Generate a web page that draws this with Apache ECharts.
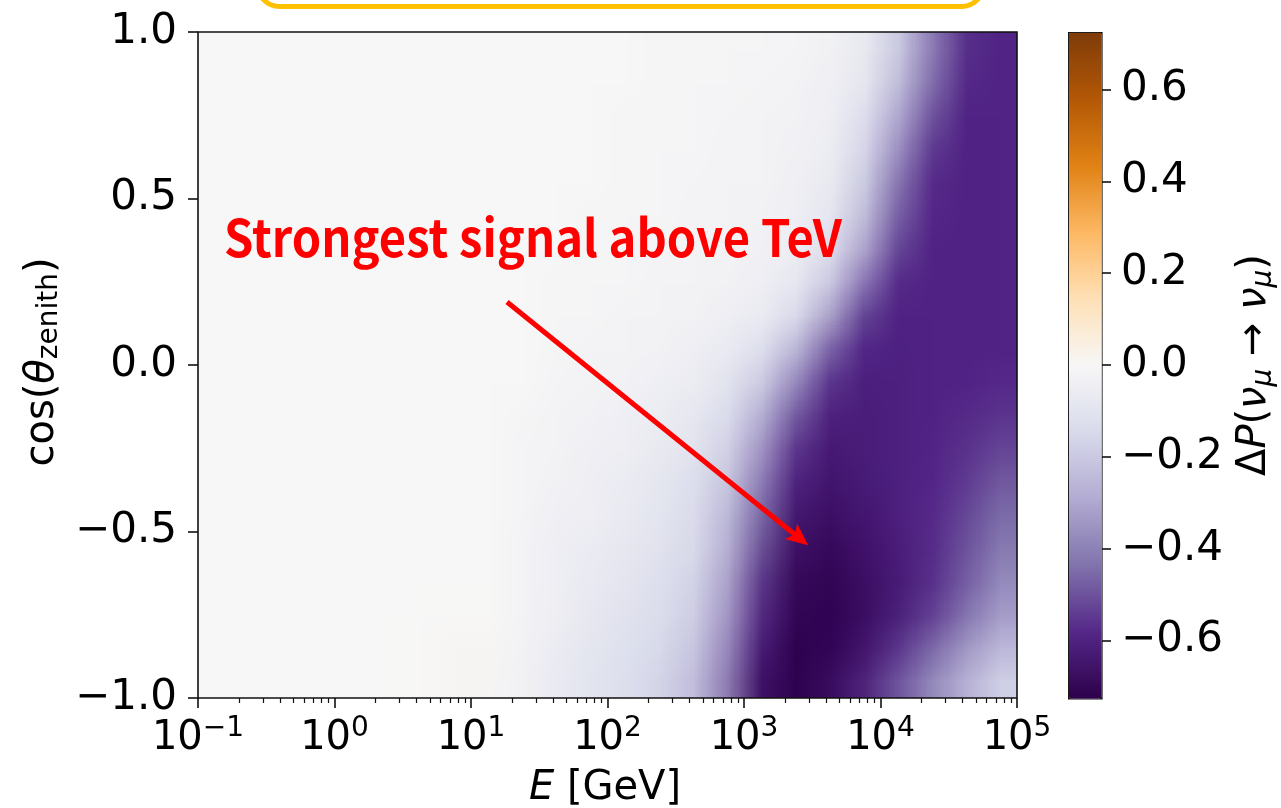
<!DOCTYPE html>
<html>
<head>
<meta charset="utf-8">
<script src="https://cdn.jsdelivr.net/npm/echarts@6/dist/echarts.min.js"></script>
<style>
  html, body { margin: 0; padding: 0; background: #ffffff; }
  #chart { width: 1281px; height: 808px; }
  #cells { position: absolute; left: -3000px; top: 0; width: 24px; height: 20px; }
</style>
</head>
<body>
<div id="chart"></div>
<div id="cells"></div>
<script>
// ---- grid of the map: log10(E / GeV) column centres, cos(zenith) row centres (top to bottom)
const logE = [-0.875, -0.625, -0.375, -0.125, 0.125, 0.375, 0.625, 0.875,
              1.125, 1.375, 1.625, 1.875, 2.125, 2.375, 2.625, 2.875,
              3.125, 3.375, 3.625, 3.875, 4.125, 4.375, 4.625, 4.875];
const cosZenith = [0.95, 0.85, 0.75, 0.65, 0.55, 0.45, 0.35, 0.25, 0.15, 0.05,
                   -0.05, -0.15, -0.25, -0.35, -0.45, -0.55, -0.65, -0.75, -0.85, -0.95];

// ---- Delta P(nu_mu -> nu_mu), one row per cos(zenith), one entry per log10(E) column
const deltaP = [
  [0,0,0,0,0,0,0,0,0,0,  0,0,0,-0.01,-0.01,-0.01,-0.01,-0.01,-0.02,-0.05,-0.14,-0.36,-0.56,-0.59],
  [0,0,0,0,0,0,0,0,0,0,  0,0,0,-0.01,-0.01,-0.01,-0.01,-0.01,-0.03,-0.05,-0.16,-0.38,-0.57,-0.59],
  [0,0,0,0,0,0,0,0,0,0,  0,0,-0.01,-0.01,-0.01,-0.01,-0.02,-0.02,-0.03,-0.07,-0.22,-0.45,-0.59,-0.59],
  [0,0,0,0,0,0,0,0,0,0,  0,0,-0.01,-0.01,-0.01,-0.01,-0.02,-0.02,-0.04,-0.09,-0.28,-0.52,-0.59,-0.59],
  [0,0,0,0,0,0,0,0,0,0,  0,0,-0.01,-0.01,-0.01,-0.02,-0.02,-0.03,-0.05,-0.12,-0.36,-0.57,-0.59,-0.59],
  [0,0,0,0,0,0,0,0,0,0,  0,-0.01,-0.01,-0.01,-0.01,-0.02,-0.02,-0.03,-0.05,-0.15,-0.43,-0.58,-0.59,-0.59],
  [0,0,0,0,0,0,0,0,0,0,  0,-0.01,-0.01,-0.01,-0.02,-0.02,-0.02,-0.04,-0.06,-0.20,-0.48,-0.59,-0.59,-0.59],
  [0,0,0,0,0,0,0,0,0,0,  -0.01,-0.01,-0.01,-0.01,-0.02,-0.02,-0.03,-0.05,-0.12,-0.32,-0.56,-0.59,-0.59,-0.59],
  [0,0,0,0,0,0,0,0,0,0,  -0.01,-0.01,-0.01,-0.02,-0.02,-0.03,-0.04,-0.07,-0.18,-0.48,-0.59,-0.59,-0.59,-0.59],
  [0,0,0,0,0,0,0,0,0,0,  -0.01,-0.01,-0.02,-0.02,-0.03,-0.05,-0.08,-0.16,-0.38,-0.57,-0.60,-0.59,-0.59,-0.59],
  [0,0,0,0,0,0,0,0,0,0,  -0.01,-0.02,-0.02,-0.03,-0.04,-0.07,-0.13,-0.28,-0.52,-0.60,-0.60,-0.59,-0.59,-0.58],
  [0,0,0,0,0,0,0,0,0,-0.01,  -0.01,-0.02,-0.03,-0.04,-0.06,-0.10,-0.20,-0.42,-0.59,-0.61,-0.60,-0.59,-0.58,-0.56],
  [0,0,0,0,0,0,0,0,0,-0.01,  -0.02,-0.03,-0.04,-0.06,-0.08,-0.13,-0.27,-0.52,-0.62,-0.61,-0.60,-0.59,-0.57,-0.53],
  [0,0,0,0,0,0,0,0,0,-0.01,  -0.02,-0.03,-0.05,-0.07,-0.10,-0.16,-0.33,-0.58,-0.64,-0.62,-0.60,-0.59,-0.56,-0.49],
  [0,0,0,0,0,0,0,0,0,-0.01,  -0.03,-0.04,-0.06,-0.08,-0.11,-0.19,-0.40,-0.62,-0.66,-0.63,-0.60,-0.58,-0.54,-0.45],
  [0,0,0,0,0,0,0,0,0,-0.01,  -0.03,-0.05,-0.07,-0.09,-0.12,-0.20,-0.45,-0.65,-0.68,-0.65,-0.61,-0.58,-0.52,-0.42],
  [0,0,0,0,0,0,0,0,0,-0.01,  -0.04,-0.06,-0.08,-0.10,-0.14,-0.23,-0.52,-0.68,-0.70,-0.67,-0.62,-0.58,-0.50,-0.38],
  [0,0,0,0,0,0,0,0,0,-0.01,  -0.04,-0.07,-0.09,-0.12,-0.15,-0.25,-0.55,-0.70,-0.71,-0.68,-0.63,-0.57,-0.47,-0.34],
  [0,0,0,0,0,0,0,0.01,0.01,-0.01,  -0.05,-0.08,-0.10,-0.13,-0.17,-0.30,-0.60,-0.71,-0.71,-0.67,-0.59,-0.50,-0.38,-0.27],
  [0,0,0,0,0,0,0,0.01,0.01,-0.02,  -0.06,-0.09,-0.11,-0.15,-0.20,-0.33,-0.64,-0.72,-0.69,-0.63,-0.52,-0.40,-0.30,-0.18]
];

// ---- axes and colour scale
const xDecades = [-1, 5];            // log10(E / GeV) range
const cosRange = [-1, 1];
const colorbarTicks = [-0.6, -0.4, -0.2, 0.0, 0.2, 0.4, 0.6];
const colorLimit = 0.725;
const puOrReversed = ['#2d004b', '#542788', '#8073ac', '#b2abd2', '#d8daeb', '#f7f7f7',
                      '#fee0b6', '#fdb863', '#e08214', '#b35806', '#7f3b08'];

// ---- annotation (data coordinates: log10(E), cos(zenith))
const noteText = 'Strongest signal above TeV';
const noteAt = [-0.81, 0.384];
const arrowFrom = [1.264, 0.189];
const arrowTo = [3.469, -0.541];

// ---- layout
const FONT = 'DejaVu Sans';
const PLOT = { left: 198, top: 32, width: 819, height: 666 };
const CBAR = { left: 1068, top: 32, width: 33, height: 666 };
const INK = '#111111';
const TICK_FONT = 42;

// minor ticks of the logarithmic energy axis (2..9 x 10^n)
const minorTicks = [];
for (let d = xDecades[0]; d < xDecades[1]; d++) {
  for (let k = 2; k <= 9; k++) minorTicks.push(d + Math.log10(k));
}

const fmtSigned = v => (v < 0 ? '\u2212' : '') + Math.abs(v).toFixed(1);

// ---- cell map: one pixel per cell, drawn by an ECharts heatmap, then shown scaled in the plot
const cellData = [];
deltaP.forEach((row, j) => row.forEach((v, i) => cellData.push([i, j, v])));

const cellsChart = echarts.init(document.getElementById('cells'), null,
  { renderer: 'canvas', devicePixelRatio: 1, width: logE.length, height: cosZenith.length });
cellsChart.setOption({
  animation: false,
  grid: { left: 0, right: 0, top: 0, bottom: 0 },
  xAxis: { type: 'category', data: logE, show: false },
  yAxis: { type: 'category', data: cosZenith, inverse: true, show: false },
  visualMap: { show: false, type: 'continuous', min: -colorLimit, max: colorLimit,
               inRange: { color: puOrReversed } },
  series: [{ type: 'heatmap', data: cellData, progressive: 0,
             itemStyle: { borderWidth: 0 }, emphasis: { disabled: true } }]
});
const cellCanvas = cellsChart.getDom().querySelector('canvas');

// ---- main figure
const chart = echarts.init(document.getElementById('chart'), null, { renderer: 'canvas' });

const tickLine = { color: INK, width: 1.6 };
const noLine = { show: false, onZero: false };
chart.setOption({
  animation: false,
  textStyle: { fontFamily: FONT },
  grid: [
    { left: PLOT.left, top: PLOT.top, width: PLOT.width, height: PLOT.height,
      show: true, borderColor: INK, borderWidth: 1.6, backgroundColor: 'transparent' },
    { left: CBAR.left, top: CBAR.top, width: CBAR.width, height: CBAR.height, show: false }
  ],
  xAxis: [
    { type: 'value', gridIndex: 0, min: xDecades[0], max: xDecades[1], interval: 1, position: 'bottom',
      axisLine: noLine, splitLine: { show: false },
      axisTick: { show: true, length: 10, lineStyle: tickLine },
      axisLabel: {
        margin: 19, color: '#000', fontSize: 40, fontFamily: FONT,
        formatter: v => '{b|10}{s|' + (v < 0 ? '\u2212' + (-v) : v) + '}',
        rich: {
          b: { fontSize: 40, fontFamily: FONT, color: '#000', lineHeight: 44 },
          s: { fontSize: 28, fontFamily: FONT, color: '#000', verticalAlign: 'top', height: 24 }
        }
      } },
    { type: 'value', gridIndex: 0, min: xDecades[0], max: xDecades[1], position: 'bottom',
      axisLine: noLine, splitLine: { show: false }, axisLabel: { show: false },
      axisTick: { show: true, length: 5, lineStyle: { color: INK, width: 1.2 }, customValues: minorTicks } },
    { type: 'value', gridIndex: 1, show: false, min: 0, max: 1, axisLine: noLine }
  ],
  yAxis: [
    { type: 'value', gridIndex: 0, min: cosRange[0], max: cosRange[1], interval: 0.5,
      axisLine: noLine, splitLine: { show: false },
      axisTick: { show: true, length: 10, lineStyle: tickLine },
      axisLabel: { margin: 21, color: '#000', fontSize: TICK_FONT, fontFamily: FONT, formatter: fmtSigned } },
    { type: 'value', gridIndex: 1, position: 'right', min: -colorLimit, max: colorLimit,
      axisLine: noLine, splitLine: { show: false },
      axisTick: { show: true, length: 10, lineStyle: tickLine, customValues: colorbarTicks },
      axisLabel: { margin: 20, color: '#000', fontSize: TICK_FONT, fontFamily: FONT,
                   customValues: colorbarTicks, formatter: fmtSigned } }
  ],
  visualMap: {
    type: 'continuous', seriesIndex: [], min: -colorLimit, max: colorLimit,
    inRange: { color: puOrReversed }, orient: 'vertical', calculable: false, hoverLink: false,
    left: CBAR.left, top: CBAR.top, itemWidth: CBAR.width, itemHeight: CBAR.height,
    padding: 0, borderColor: INK, borderWidth: 1.6
  },
  series: []
});

// ---- overlay: map image, annotation, axis titles, caption frame
const px = v => chart.convertToPixel({ xAxisIndex: 0, yAxisIndex: 0 }, v);
const topLeft = px([xDecades[0], cosRange[1]]);
const bottomRight = px([xDecades[1], cosRange[0]]);

const a0 = px(arrowFrom), a1 = px(arrowTo);
const dx = a1[0] - a0[0], dy = a1[1] - a0[1];
const len = Math.hypot(dx, dy), ux = dx / len, uy = dy / len, nx = -uy, ny = ux;
const HEAD = 22, HALF = 10, NOTCH = 5;
const headPts = [
  [a1[0], a1[1]],
  [a1[0] - HEAD * ux + HALF * nx, a1[1] - HEAD * uy + HALF * ny],
  [a1[0] - (HEAD - NOTCH) * ux, a1[1] - (HEAD - NOTCH) * uy],
  [a1[0] - HEAD * ux - HALF * nx, a1[1] - HEAD * uy - HALF * ny]
];
const notePx = px(noteAt);

const tok = (size, italic) => ({ fontSize: size, fontFamily: FONT, fontStyle: italic ? 'italic' : 'normal',
                                 fill: '#000', color: '#000' });

chart.setOption({
  graphic: [
    { type: 'image', z: -1, silent: true,
      style: { image: cellCanvas, x: topLeft[0], y: topLeft[1],
               width: bottomRight[0] - topLeft[0], height: bottomRight[1] - topLeft[1] } },
    { type: 'rect', z: 50, silent: true,
      shape: { x: 257.5, y: -40, width: 726, height: 46.5, r: 22 },
      style: { fill: '#ffffff', stroke: '#ffc000', lineWidth: 5 } },
    { type: 'text', z: 100, silent: true, x: notePx[0], y: notePx[1], scaleX: 0.925,
      style: { text: noteText, fill: '#ff0000', fontSize: 51, fontWeight: 'bold',
               fontFamily: 'Noto Sans CJK SC', align: 'left', verticalAlign: 'middle' } },
    { type: 'line', z: 100, silent: true,
      shape: { x1: a0[0], y1: a0[1], x2: a1[0] - (HEAD - NOTCH) * ux, y2: a1[1] - (HEAD - NOTCH) * uy },
      style: { stroke: '#ff0000', lineWidth: 5 } },
    { type: 'polygon', z: 100, silent: true, shape: { points: headPts }, style: { fill: '#ff0000' } },
    // y axis title
    { type: 'text', z: 100, silent: true, x: 43, y: 362, rotation: Math.PI / 2,
      style: { text: '{a|cos(}{g|\u03b8}{s|zenith}{a|)}', align: 'center', verticalAlign: 'middle',
               rich: { a: Object.assign(tok(40, false), { lineHeight: 48 }),
                       g: Object.assign(tok(40, true), { lineHeight: 48 }),
                       s: Object.assign(tok(28, false), { verticalAlign: 'bottom', height: 34 }) } } },
    // x axis title
    { type: 'text', z: 100, silent: true, x: 605, y: 789,
      style: { text: '{i|E}{a| [GeV]}', align: 'center', verticalAlign: 'middle',
               rich: { a: tok(40, false), i: tok(40, true) } } },
    // colour bar title
    { type: 'text', z: 100, silent: true, x: 1255, y: 365, rotation: Math.PI / 2,
      style: { text: '{a|\u0394}{i|P}{a|(}{i|\u03bd}{s|\u03bc}{a| \u2192 }{i|\u03bd}{s|\u03bc}{a|)}',
               align: 'center', verticalAlign: 'middle',
               rich: { a: Object.assign(tok(40, false), { lineHeight: 48 }),
                       i: Object.assign(tok(40, true), { lineHeight: 48 }),
                       s: Object.assign(tok(28, true), { verticalAlign: 'bottom', height: 30 }) } } }
  ]
});
</script>
</body>
</html>
